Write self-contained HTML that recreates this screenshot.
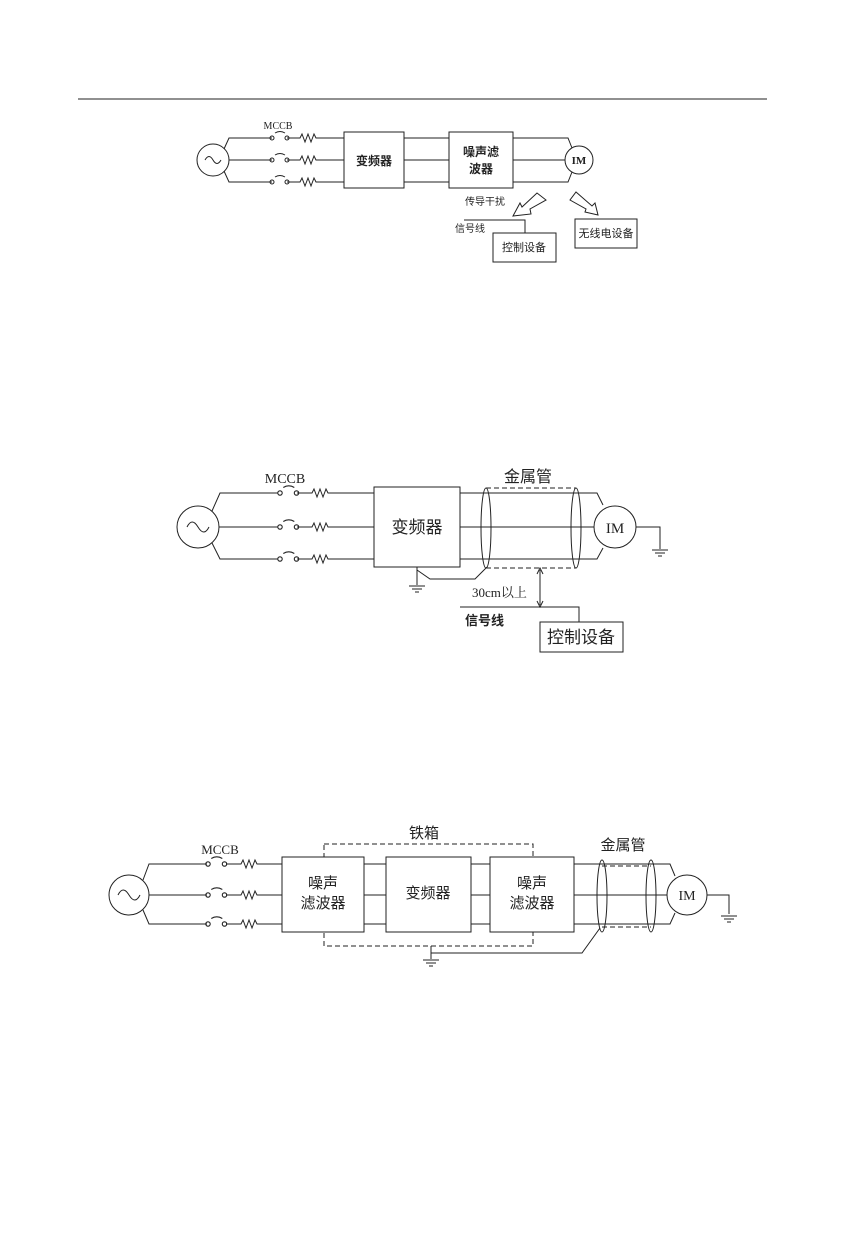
<!DOCTYPE html>
<html><head><meta charset="utf-8"><style>
html,body{margin:0;padding:0;background:#fff;}
svg{display:block;}
text{font-family:"Liberation Serif","Noto Serif CJK SC","Noto Sans CJK SC",serif;fill:#222;}
.c{font-family:"Liberation Sans","Noto Sans CJK SC",sans-serif;}
</style></head><body>
<svg width="845" height="1240" viewBox="0 0 845 1240" xmlns="http://www.w3.org/2000/svg" fill="none" stroke="#222" stroke-width="1">
<defs>
<g id="gnd"><line x1="-8" y1="0" x2="8" y2="0"/><line x1="-5" y1="3" x2="5" y2="3"/><line x1="-2" y1="6" x2="2" y2="6"/></g>
<g id="sw"><circle cx="0" cy="0" r="2"/><circle cx="15" cy="0" r="2"/><path d="M3 -5 Q8 -8 13 -5"/></g>
<g id="res"><path d="M0 0 L3 0 L5 -4 L8 4 L11 -4 L14 4 L17 -4 L19 0 L22 0"/></g>
</defs>
<line x1="78" y1="99" x2="767" y2="99"/>

<!-- Diagram 1 -->
<circle cx="213" cy="160" r="16"/>
<path d="M205 160 Q209 153 213 160 Q217 167 221 160"/>
<path d="M224 149 L229 138 L272 138 M287 138 L297 138 M319 138 L344 138"/>
<path d="M229 160 L272 160 M287 160 L297 160 M319 160 L344 160"/>
<path d="M224 171 L229 182 L272 182 M287 182 L297 182 M319 182 L344 182"/>
<use href="#sw" x="272" y="138"/><use href="#sw" x="272" y="160"/><use href="#sw" x="272" y="182"/>
<use href="#res" x="297" y="138"/><use href="#res" x="297" y="160"/><use href="#res" x="297" y="182"/>
<rect x="344" y="132" width="60" height="56"/>
<path d="M404 138 L449 138 M404 160 L449 160 M404 182 L449 182"/>
<rect x="449" y="132" width="64" height="56"/>
<path d="M513 138 L568 138 L572 148 M513 160 L565 160 M513 182 L568 182 L572 172"/>
<circle cx="579" cy="160" r="14"/>
<text x="579" y="164" font-size="11" font-weight="bold" text-anchor="middle" stroke="none">IM</text>
<text x="278" y="129" font-size="10" text-anchor="middle" stroke="none">MCCB</text>
<text class="c" x="374" y="165" font-size="12" font-weight="bold" text-anchor="middle" stroke="none">变频器</text>
<text class="c" x="481" y="156" font-size="12" font-weight="bold" text-anchor="middle" stroke="none">噪声滤</text>
<text class="c" x="481" y="173" font-size="12" font-weight="bold" text-anchor="middle" stroke="none">波器</text>
<polygon points="513,216 520,203 522,207 537,193 546,200 530,209 531,214"/>
<polygon points="598,215 585,212 586,209 570,200 576,192 592,206 595,203"/>
<text class="c" x="465" y="205" font-size="10" stroke="none">传导干扰</text>
<path d="M464 220 L525 220 L525 233"/>
<text class="c" x="455" y="232" font-size="10" stroke="none">信号线</text>
<rect x="493" y="233" width="63" height="29"/>
<text class="c" x="524" y="251" font-size="11" text-anchor="middle" stroke="none">控制设备</text>
<rect x="575" y="219" width="62" height="29"/>
<text class="c" x="606" y="237" font-size="11" text-anchor="middle" stroke="none">无线电设备</text>

<!-- Diagram 2 -->
<circle cx="198" cy="527" r="21"/>
<path d="M187 527 Q192 517 198 527 Q204 537 209 527"/>
<path d="M212 511 L220 493 L278 493 M297 493 L309 493 M331 493 L374 493"/>
<path d="M219 527 L278 527 M297 527 L309 527 M331 527 L374 527"/>
<path d="M212 543 L220 559 L278 559 M297 559 L309 559 M331 559 L374 559"/>
<g transform="translate(280,493) scale(1.1)"><use href="#sw"/></g>
<g transform="translate(280,527) scale(1.1)"><use href="#sw"/></g>
<g transform="translate(280,559) scale(1.1)"><use href="#sw"/></g>
<use href="#res" x="309" y="493"/><use href="#res" x="309" y="527"/><use href="#res" x="309" y="559"/>
<text x="285" y="483" font-size="14" text-anchor="middle" stroke="none">MCCB</text>
<rect x="374" y="487" width="86" height="80"/>
<text class="c" x="417" y="533" font-size="17" text-anchor="middle" stroke="none">变频器</text>
<path d="M460 493 L597 493 L603 505 M460 527 L594 527 M460 559 L597 559 L603 548"/>
<path d="M486 488 L576 488 M486 568 L576 568" stroke-dasharray="5,3"/>
<ellipse cx="486" cy="528" rx="5" ry="40"/>
<ellipse cx="576" cy="528" rx="5" ry="40"/>
<text class="c" x="528" y="482" font-size="16" text-anchor="middle" stroke="none">金属管</text>
<circle cx="615" cy="527" r="21"/>
<text x="615" y="533" font-size="15" text-anchor="middle" stroke="none">IM</text>
<path d="M636 527 L660 527 L660 549"/>
<use href="#gnd" x="660" y="550"/>
<path d="M417 567 L417 585 M417 570 L430 579 L475 579 L487 567"/>
<use href="#gnd" x="417" y="586"/>
<text x="472" y="597" font-size="13" stroke="none">30cm以上</text>
<path d="M540 570 L540 605"/>
<path d="M537 574 L540 568 L543 574 M537 601 L540 607 L543 601"/>
<path d="M460 607 L579 607 L579 622"/>
<text class="c" x="465" y="625" font-size="13" font-weight="bold" stroke="none">信号线</text>
<rect x="540" y="622" width="83" height="30"/>
<text class="c" x="581" y="643" font-size="17" text-anchor="middle" stroke="none">控制设备</text>

<!-- Diagram 3 -->
<circle cx="129" cy="895" r="20"/>
<path d="M118 895 Q123 885 129 895 Q135 905 140 895"/>
<path d="M143 880 L149 864 L207 864 M226 864 L238 864 M260 864 L282 864"/>
<path d="M149 895 L207 895 M226 895 L238 895 M260 895 L282 895"/>
<path d="M143 910 L149 924 L207 924 M226 924 L238 924 M260 924 L282 924"/>
<g transform="translate(208,864) scale(1.1)"><use href="#sw"/></g>
<g transform="translate(208,895) scale(1.1)"><use href="#sw"/></g>
<g transform="translate(208,924) scale(1.1)"><use href="#sw"/></g>
<use href="#res" x="238" y="864"/><use href="#res" x="238" y="895"/><use href="#res" x="238" y="924"/>
<text x="220" y="854" font-size="13" text-anchor="middle" stroke="none">MCCB</text>
<rect x="324" y="844" width="209" height="102" stroke-dasharray="5,3"/>
<text class="c" x="424" y="838" font-size="15" text-anchor="middle" stroke="none">铁箱</text>
<rect x="282" y="857" width="82" height="75" fill="#fff"/>
<rect x="386" y="857" width="85" height="75" fill="#fff"/>
<rect x="490" y="857" width="84" height="75" fill="#fff"/>
<path d="M364 864 L386 864 M364 895 L386 895 M364 924 L386 924 M471 864 L490 864 M471 895 L490 895 M471 924 L490 924"/>
<text class="c" x="323" y="888" font-size="15" text-anchor="middle" stroke="none">噪声</text>
<text class="c" x="323" y="908" font-size="15" text-anchor="middle" stroke="none">滤波器</text>
<text class="c" x="428" y="898" font-size="15" text-anchor="middle" stroke="none">变频器</text>
<text class="c" x="532" y="888" font-size="15" text-anchor="middle" stroke="none">噪声</text>
<text class="c" x="532" y="908" font-size="15" text-anchor="middle" stroke="none">滤波器</text>
<path d="M574 864 L670 864 L675 876 M574 895 L667 895 M574 924 L670 924 L675 913"/>
<path d="M602 866 L651 866 M602 927 L651 927" stroke-dasharray="5,3"/>
<ellipse cx="602" cy="896" rx="5" ry="36"/>
<ellipse cx="651" cy="896" rx="5" ry="36"/>
<text class="c" x="623" y="850" font-size="15" text-anchor="middle" stroke="none">金属管</text>
<circle cx="687" cy="895" r="20"/>
<text x="687" y="900" font-size="14" text-anchor="middle" stroke="none">IM</text>
<path d="M707 895 L729 895 L729 914"/>
<use href="#gnd" x="729" y="916"/>
<path d="M431 946 L431 959 M431 953 L582 953 L600 928"/>
<use href="#gnd" x="431" y="960"/>
</svg>
</body></html>
